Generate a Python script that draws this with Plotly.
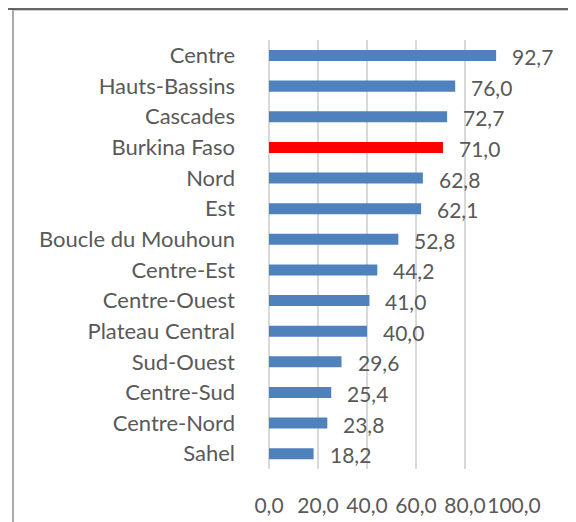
import plotly.graph_objects as go

regions = ["Centre", "Hauts-Bassins", "Cascades", "Burkina Faso", "Nord", "Est",
           "Boucle du Mouhoun", "Centre-Est", "Centre-Ouest", "Plateau Central",
           "Sud-Ouest", "Centre-Sud", "Centre-Nord", "Sahel"]
values = [92.7, 76.0, 72.7, 71.0, 62.8, 62.1, 52.8, 44.2, 41.0, 40.0, 29.6, 25.4, 23.8, 18.2]
x_ticks = [0, 20, 40, 60, 80, 100]
highlight = "Burkina Faso"

BLUE = "#4f81bd"
RED = "#ff0000"
TEXT = "#595959"
FONT = "Lato"

colors = [RED if r == highlight else BLUE for r in regions]

fig = go.Figure()
fig.add_trace(go.Bar(
    x=values, y=regions, orientation="h",
    marker=dict(color=colors, line=dict(width=0)),
    width=0.36,
    cliponaxis=False,
    hoverinfo="skip",
))

for r, v in zip(regions, values):
    fig.add_annotation(
        x=v, y=r, xref="x", yref="y",
        text=f"{v:.1f}".replace(".", ","),
        showarrow=False, xanchor="left", yanchor="middle",
        xshift=14, yshift=-1,
        font=dict(family=FONT, size=21, color=TEXT),
    )

# the page body adds an 8px offset; figure coordinates = reference - 8
OFF = 8
W, H = 576, 522
ml, mr, mt, mb = 269 - OFF, 576 - (514 - OFF), 40 - OFF, 522 - (469 - OFF)
pw, ph = W - ml - mr, H - mt - mb

def px(xp):
    return (xp - OFF - ml) / pw

def py(yp):
    return (H - mb - (yp - OFF)) / ph

# frame
fig.add_shape(type="line", xref="paper", yref="paper",
              x0=px(13), x1=px(13), y0=py(9), y1=py(540),
              line=dict(color="#8c8c8c", width=1.5))
fig.add_shape(type="line", xref="paper", yref="paper",
              x0=px(571), x1=px(571), y0=py(9), y1=py(540),
              line=dict(color="#8c8c8c", width=1.5))
fig.add_shape(type="line", xref="paper", yref="paper",
              x0=px(0), x1=px(590), y0=py(9), y1=py(9),
              line=dict(color="#333333", width=1.5))
fig.add_shape(type="line", xref="paper", yref="paper",
              x0=px(13), x1=px(571), y0=py(10.5), y1=py(10.5),
              line=dict(color="#cfcfcf", width=1))

fig.update_layout(
    width=W, height=H,
    margin=dict(l=ml, r=mr, t=mt, b=mb, pad=0, autoexpand=False),
    paper_bgcolor="white", plot_bgcolor="white",
    separators=", ",
    showlegend=False,
    font=dict(family=FONT, size=21, color=TEXT),
    bargap=0.64,
)
fig.update_xaxes(
    range=[0, 100], tickvals=x_ticks, tickformat=".1f", tickangle=0,
    showgrid=True, gridcolor="#d9d9d9", gridwidth=1.5,
    zeroline=True, zerolinecolor="#d9d9d9", zerolinewidth=1.5,
    showline=False, ticks="", ticklabelstandoff=22, automargin=False,
    tickfont=dict(family=FONT, size=21, color=TEXT),
    fixedrange=True,
)
fig.update_yaxes(
    categoryorder="array", categoryarray=regions, autorange="reversed",
    showgrid=False, zeroline=False, showline=False, ticks="",
    ticklabelstandoff=33, automargin=False,
    tickfont=dict(family=FONT, size=22, color=TEXT),
    fixedrange=True,
)

fig.write_html("out.html", config={"displayModeBar": False})
